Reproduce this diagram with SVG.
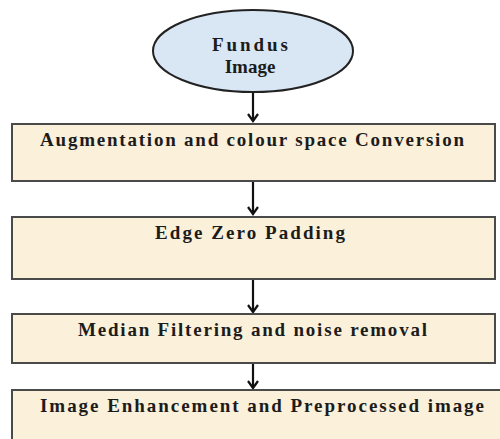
<svg xmlns="http://www.w3.org/2000/svg" width="500" height="439" viewBox="0 0 500 439">
<defs>
<style>
.box{fill:#fbf0da;stroke:#4a4a4a;stroke-width:2}
.t{font-family:'Liberation Serif',serif;font-weight:700;font-size:19px;fill:#1c1c1c}
.c{stroke:#111;stroke-width:2.2;fill:none}
</style>
<marker id="ah" markerWidth="12" markerHeight="12" refX="9" refY="6" orient="auto" markerUnits="userSpaceOnUse" viewBox="0 0 12 12">
<path d="M2,1 L9,6 L2,11" fill="none" stroke="#111" stroke-width="2.2"/>
</marker>
</defs>
<rect width="500" height="439" fill="#ffffff"/>
<g id="connectors">
<line class="c" x1="253" y1="92" x2="253" y2="121" marker-end="url(#ah)"/>
<line class="c" x1="253" y1="182" x2="253" y2="214" marker-end="url(#ah)"/>
<line class="c" x1="253" y1="280" x2="253" y2="312" marker-end="url(#ah)"/>
<line class="c" x1="253" y1="364" x2="253" y2="388" marker-end="url(#ah)"/>
</g>
<g id="n0">
<ellipse cx="253" cy="51" rx="100" ry="41" fill="#d9e7f5" stroke="#222" stroke-width="2"/>
<text class="t" x="250" y="51" text-anchor="middle" textLength="76" lengthAdjust="spacing">Fundus</text>
<text class="t" x="250" y="73" text-anchor="middle">Image</text>
</g>
<g id="n1">
<rect class="box" x="12" y="124" width="483" height="57"/>
<text class="t" x="40" y="146" textLength="424" lengthAdjust="spacing">Augmentation and colour space Conversion</text>
</g>
<g id="n2">
<rect class="box" x="12" y="217" width="483" height="62"/>
<text class="t" x="155" y="239" textLength="190" lengthAdjust="spacing">Edge Zero Padding</text>
</g>
<g id="n3">
<rect class="box" x="12" y="314" width="483" height="49"/>
<text class="t" x="78" y="336" textLength="349" lengthAdjust="spacing">Median Filtering and noise removal</text>
</g>
<g id="n4">
<rect class="box" x="12" y="390" width="495" height="60"/>
<text class="t" x="40" y="412" textLength="444" lengthAdjust="spacing">Image Enhancement and Preprocessed image</text>
</g>
</svg>
